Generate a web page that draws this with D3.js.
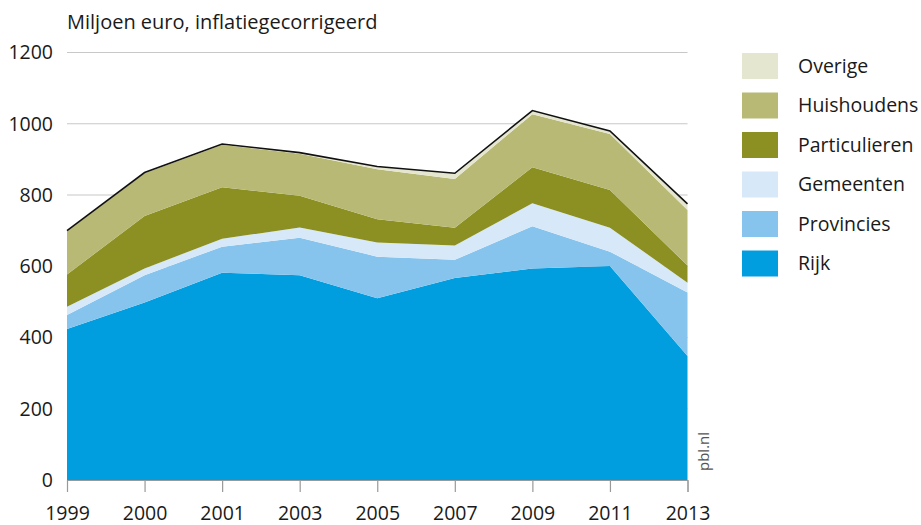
<!DOCTYPE html>
<html>
<head>
<meta charset="utf-8">
<script src="https://cdn.jsdelivr.net/npm/d3@7"></script>
<style>
  body { margin: 0; background: #fff; }
  text { font-family: "Open Sans", "Noto Sans", sans-serif; fill: #1a1a1a; }
</style>
</head>
<body>
<script>
var width = 921, height = 525;

// data
var years = ['1999', '2000', '2001', '2003', '2005', '2007', '2009', '2011', '2013'];
var rijk          = [424, 498, 582, 575, 510, 567, 594, 601, 348];
var provincies    = [ 39,  77,  73, 105, 117,  51, 118,  40, 178];
var gemeenten     = [ 23,  19,  22,  29,  40,  40,  65,  67,  28];
var particulieren = [ 91, 147, 145,  89,  65,  50, 101, 106,  48];
var huishoudens   = [122, 120, 119, 118, 140, 137, 149, 157, 156];
var overige       = [  1,   2,   2,   3,   8,  16,  10,   9,  17];
var yTicks = [0, 200, 400, 600, 800, 1000, 1200];

var series = ['Rijk', 'Provincies', 'Gemeenten', 'Particulieren', 'Huishoudens', 'Overige'];
var colors = ['#009ddf', '#86c4ee', '#d7e9f9', '#8c8f22', '#b8b975', '#e5e6cf'];

var table = years.map(function (y, i) {
  return {
    year: y,
    Rijk: rijk[i], Provincies: provincies[i], Gemeenten: gemeenten[i],
    Particulieren: particulieren[i], Huishoudens: huishoudens[i], Overige: overige[i]
  };
});

var svg = d3.select('body').append('svg')
  .attr('width', width)
  .attr('height', height);

var xscale = d3.scalePoint().domain(years).range([67, 687.5]);
var yscale = d3.scaleLinear().domain([0, 1200]).range([480, 52.5]);

// grid
svg.append('g').selectAll('line')
  .data(yTicks.filter(function (d) { return d > 0; }))
  .enter().append('line')
  .attr('x1', 67).attr('x2', 687.5)
  .attr('y1', function (d) { return yscale(d); })
  .attr('y2', function (d) { return yscale(d); })
  .attr('stroke', '#c8c8c8')
  .attr('stroke-width', 1.2);

// y labels
svg.append('g').selectAll('text')
  .data(yTicks)
  .enter().append('text')
  .attr('x', 53)
  .attr('y', function (d) { return yscale(d); })
  .attr('dy', '0.35em')
  .attr('text-anchor', 'end')
  .style('font-size', '19.5px')
  .text(function (d) { return d; });

// stacked areas
var stacked = d3.stack().keys(series)(table);
var area = d3.area()
  .x(function (d) { return xscale(d.data.year); })
  .y0(function (d) { return yscale(d[0]); })
  .y1(function (d) { return yscale(d[1]); });

svg.append('g').selectAll('path')
  .data(stacked)
  .enter().append('path')
  .attr('d', area)
  .attr('fill', function (d, i) { return colors[i]; });

// total outline
var totalLine = d3.line()
  .x(function (d) { return xscale(d.data.year); })
  .y(function (d) { return yscale(d[1]); });
svg.append('path')
  .datum(stacked[stacked.length - 1])
  .attr('d', totalLine)
  .attr('fill', 'none')
  .attr('stroke', '#111')
  .attr('stroke-width', 1.6);

// x axis
var x_axis = d3.axisBottom(xscale).tickSize(12).tickPadding(14);
var gx = svg.append('g')
  .attr('transform', 'translate(0,480)')
  .call(x_axis);
gx.select('.domain').attr('stroke', '#999').attr('stroke-width', 1);
gx.selectAll('.tick line').attr('stroke', '#999').attr('stroke-width', 1.2);
gx.selectAll('.tick text')
  .style('font-size', '19.5px')
  .style('font-family', '"Open Sans", "Noto Sans", sans-serif')
  .attr('fill', '#1a1a1a');

// title
svg.append('text')
  .attr('x', 67).attr('y', 29)
  .style('font-size', '20px')
  .text('Miljoen euro, inflatiegecorrigeerd');

// source
svg.append('text')
  .attr('transform', 'translate(709,471) rotate(-90)')
  .style('font-size', '15px')
  .style('fill', '#555')
  .text('pbl.nl');

// legend
var legendKeys = series.slice().reverse();
var legendColors = colors.slice().reverse();
var legend = svg.append('g').selectAll('g')
  .data(legendKeys)
  .enter().append('g')
  .attr('transform', function (d, i) { return 'translate(742,' + (53 + i * 39.5) + ')'; });
legend.append('rect')
  .attr('width', 36).attr('height', 26)
  .attr('fill', function (d, i) { return legendColors[i]; });
legend.append('text')
  .attr('x', 56).attr('y', 13)
  .attr('dy', '0.35em')
  .style('font-size', '19.5px')
  .text(function (d) { return d; });
</script>
</body>
</html>
